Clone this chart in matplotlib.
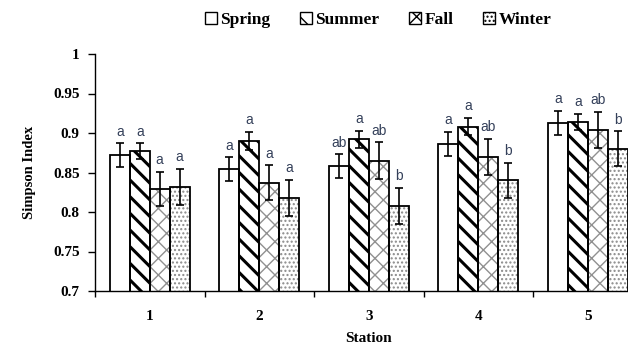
import numpy as np
import matplotlib
matplotlib.use("Agg")
import matplotlib.pyplot as plt
from matplotlib.patches import Patch

# Simpson index by station and season
stations = ['1', '2', '3', '4', '5']
seasons = ['Spring', 'Summer', 'Fall', 'Winter']
spring = [0.872, 0.854, 0.858, 0.886, 0.913]
summer = [0.877, 0.890, 0.892, 0.908, 0.914]
fall = [0.829, 0.837, 0.865, 0.870, 0.904]
winter = [0.832, 0.818, 0.808, 0.840, 0.880]
spring_err = [0.015, 0.015, 0.015, 0.015, 0.015]
summer_err = [0.010, 0.011, 0.011, 0.011, 0.010]
fall_err = [0.022, 0.022, 0.023, 0.023, 0.023]
winter_err = [0.023, 0.023, 0.023, 0.022, 0.022]
spring_lbl = ['a', 'a', 'ab', 'a', 'a']
summer_lbl = ['a', 'a', 'a', 'a', 'a']
fall_lbl = ['a', 'a', 'ab', 'ab', 'ab']
winter_lbl = ['a', 'a', 'b', 'b', 'b']

values = [spring, summer, fall, winter]
errors = [spring_err, summer_err, fall_err, winter_err]
letters = [spring_lbl, summer_lbl, fall_lbl, winter_lbl]

# hatch, hatch colour, hatch line width per season
styles = [('', 'black', 1.0),
          ('\\\\', 'black', 2.2),
          ('xx', '#909090', 1.0),
          ('....', '#8a8a8a', 1.0)]

serif = 'Liberation Serif'
fig = plt.figure(figsize=(6.28, 3.45), dpi=100)
ax = fig.add_axes([95 / 628, 54 / 345, 547.5 / 628, 237 / 345])

x = np.arange(1, len(stations) + 1)
w = 0.182
offsets = np.array([-1.5, -0.5, 0.5, 1.5]) * w

handles = []
for i, season in enumerate(seasons):
    hatch, hcol, hlw = styles[i]
    pos = x + offsets[i]
    with plt.rc_context({'hatch.linewidth': hlw, 'hatch.color': hcol}):
        bars = ax.bar(pos, values[i], w, bottom=0, color='white',
                      edgecolor=hcol, linewidth=0, hatch=hatch, zorder=2)
        for b in bars:
            if hasattr(b, 'set_hatch_linewidth'):
                b.set_hatch_linewidth(hlw)
    ax.bar(pos, values[i], w, fill=False, edgecolor='black',
           linewidth=1.3, zorder=3)
    ax.errorbar(pos, values[i], yerr=errors[i], fmt='none', ecolor='black',
                elinewidth=1.2, capsize=2.6, capthick=1.2, zorder=4)
    for p, v, e, t in zip(pos, values[i], errors[i], letters[i]):
        ax.text(p, v + e + 0.006, t, ha='center', va='bottom',
                fontsize=10, family='Liberation Sans', color='#34405a')
    with plt.rc_context({'hatch.linewidth': min(hlw, 1.6), 'hatch.color': hcol}):
        hp = Patch(facecolor='white', edgecolor='black', hatch=hatch,
                   linewidth=1.0, label=season)
    handles.append(hp)

ax.set_xlim(0.5, 5.5)
ax.set_ylim(0.7, 1.0)
ax.set_yticks(np.arange(0.7, 1.0001, 0.05))
ax.set_yticklabels(['0.7', '0.75', '0.8', '0.85', '0.9', '0.95', '1'])
ax.set_xticks(x)
ax.set_xticklabels(stations)
ax.set_xticks(np.arange(0.5, 5.6, 1.0), minor=True)
ax.tick_params(axis='x', which='major', length=0, pad=14)
ax.tick_params(axis='x', which='minor', length=4, direction='out', width=1)
ax.tick_params(axis='y', length=5, direction='out', width=1, pad=6)
for lab in ax.get_xticklabels() + ax.get_yticklabels():
    lab.set_fontfamily(serif)
    lab.set_fontweight('bold')
    lab.set_fontsize(11)

ax.spines['top'].set_visible(False)
ax.spines['right'].set_visible(False)
ax.spines['left'].set_linewidth(1)
ax.spines['bottom'].set_linewidth(1)

ax.set_xlabel('Station', family=serif, fontweight='bold', fontsize=11, labelpad=6)
ax.set_ylabel('Simpson Index', family=serif, fontweight='bold', fontsize=10.5, labelpad=12)

fig.legend(handles=handles, loc='center', bbox_to_anchor=(0.602, 0.942), ncol=4,
           frameon=False, handlelength=0.7, handleheight=0.7, handletextpad=0.2,
           columnspacing=1.7, prop={'family': serif, 'weight': 'bold', 'size': 12.5})

fig.savefig('out.png', dpi=100)
